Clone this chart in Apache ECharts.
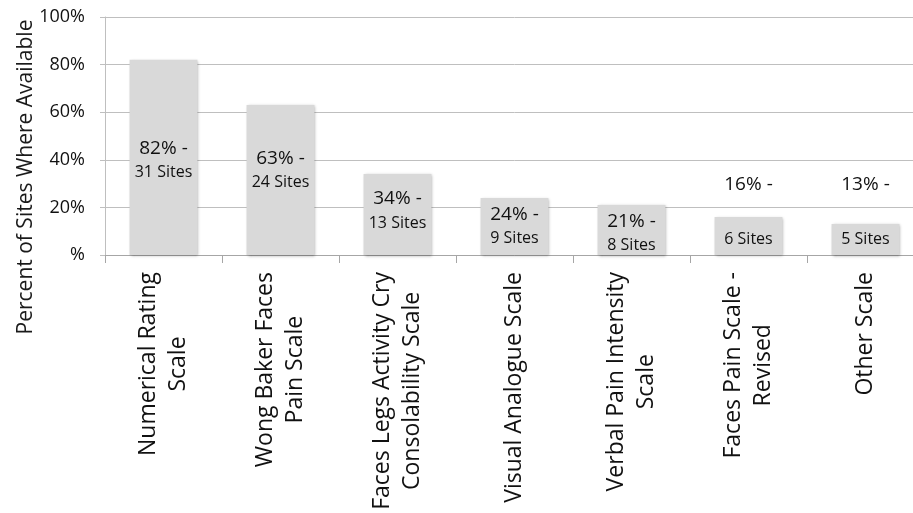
<!DOCTYPE html>
<html>
<head>
<meta charset="utf-8">
<script src="https://cdn.jsdelivr.net/npm/echarts@6/dist/echarts.min.js"></script>
<style>
html,body{margin:0;padding:0;background:#fff;overflow:hidden;width:913px;height:513px;}
#chart{width:924px;height:513px;}
</style>
</head>
<body>
<div id="chart"></div>
<script>
// ---- data ----
const categories = [
  "Numerical Rating\nScale",
  "Wong Baker Faces\nPain Scale",
  "Faces Legs Activity Cry\nConsolability Scale",
  "Visual Analogue Scale",
  "Verbal Pain Intensity\nScale",
  "Faces Pain Scale -\nRevised",
  "Other Scale"
];
const percents = [82, 63, 34, 24, 21, 16, 13];
const sites = [31, 24, 13, 9, 8, 6, 5];
const yTicks = [0, 20, 40, 60, 80, 100];
const yTitle = "Percent of Sites Where Available";

// ---- label placement (style, not data) ----
const labelOffsets = [3, -9.5, -3.5, 0, 3.5, null, null];

const FONT = "Open Sans";
const chart = echarts.init(document.getElementById('chart'));

const seriesData = percents.map((v, i) => {
  const item = { value: v };
  if (labelOffsets[i] === null) {
    item.label = {
      position: 'insideBottom',
      distance: 4,
      formatter: '{p|' + v + '% -}\n{g|}\n{s|' + sites[i] + ' Sites}'
    };
  } else {
    item.label = {
      position: 'inside',
      offset: [0, labelOffsets[i]],
      formatter: '{p|' + v + '% -}\n{s|' + sites[i] + ' Sites}'
    };
  }
  return item;
});

chart.setOption({
  backgroundColor: '#ffffff',
  animation: false,
  grid: { left: 105, top: 17, right: 0, bottom: 258, containLabel: false },
  graphic: [{
    type: 'text',
    x: 26, y: 177,
    rotation: Math.PI / 2,
    style: {
      text: yTitle,
      font: '21px "' + FONT + '"',
      fill: '#1a1a1a',
      align: 'center',
      verticalAlign: 'middle'
    }
  }],
  xAxis: {
    type: 'category',
    data: categories,
    boundaryGap: true,
    axisLine: { show: true, lineStyle: { color: '#a6a6a6', width: 1 } },
    axisTick: { show: true, length: 8, lineStyle: { color: '#a6a6a6' } },
    axisLabel: {
      interval: 0,
      rotate: 90,
      margin: 17,
      color: '#111',
      fontFamily: FONT,
      fontSize: 23,
      formatter: function (val) {
        return val.split('\n').map(l => '{c|' + l + '}').join('\n');
      },
      rich: {
        c: { align: 'center', fontFamily: FONT, fontSize: 23, lineHeight: 30, color: '#111' }
      }
    },
    splitLine: { show: false }
  },
  yAxis: {
    type: 'value',
    min: 0, max: 100, interval: 20,
    axisLine: { show: true, lineStyle: { color: '#bfbfbf' } },
    axisTick: { show: true, length: 5, lineStyle: { color: '#bfbfbf' } },
    axisLabel: {
      margin: 20,
      color: '#111',
      fontFamily: FONT,
      fontSize: 18,
      formatter: function (v) {
        return yTicks.indexOf(v) === 0 ? '%' : v + '%';
      }
    },
    splitLine: { show: true, lineStyle: { color: '#bfbfbf', width: 1 } }
  },
  series: [{
    type: 'bar',
    data: seriesData,
    barWidth: '58%',
    itemStyle: {
      color: '#d9d9d9',
      shadowColor: 'rgba(0,0,0,0.35)',
      shadowBlur: 3,
      shadowOffsetX: 1,
      shadowOffsetY: 1
    },
    label: {
      show: true,
      color: '#111',
      rich: {
        p: { fontFamily: FONT, fontSize: 19, lineHeight: 24, color: '#111', align: 'center' },
        s: { fontFamily: FONT, fontSize: 16, lineHeight: 24, color: '#111', align: 'center' },
        g: { fontSize: 10, lineHeight: 30 }
      }
    }
  }]
});
</script>
</body>
</html>
